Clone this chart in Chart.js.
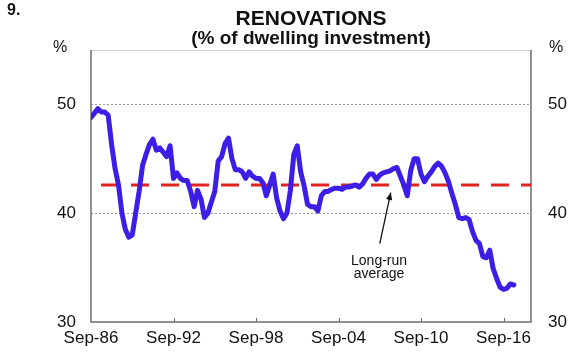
<!DOCTYPE html>
<html>
<head>
<meta charset="utf-8">
<script src="https://cdn.jsdelivr.net/npm/chart.js@4.4.1/dist/chart.umd.min.js"></script>
<style>
  html, body { margin: 0; padding: 0; background: #fff; }
  #wrap { width: 580px; height: 352px; }
</style>
</head>
<body>
<div id="wrap"><canvas id="reno" width="580" height="352"></canvas></div>
<script>
// quarterly, Sep-86 onwards (% of dwelling investment)
const renovations = [
  48.8, 49.2, 49.6, 49.3, 49.3, 49.0, 46.3, 44.1, 42.6, 40.0,
  38.5, 37.8, 38.0, 40.0, 42.0, 44.4, 45.4, 46.3, 46.8, 45.8,
  46.0, 45.6, 45.2, 46.2, 43.2, 43.7, 43.2, 43.0, 43.0, 42.0,
  40.6, 42.1, 41.3, 39.6, 40.0, 41.0, 42.0, 44.8, 45.2, 46.4,
  46.9, 45.0, 44.0, 44.0, 43.8, 43.2, 43.8, 43.4, 43.2, 43.2,
  42.8, 41.6, 42.6, 43.6, 41.4, 40.2, 39.5, 40.0, 42.1, 45.4,
  46.2, 43.8, 42.5, 40.8, 40.6, 40.6, 40.2, 41.6, 42.0, 42.0,
  42.2, 42.3, 42.3, 42.2, 42.4, 42.4, 42.5, 42.6, 42.4, 42.7,
  43.2, 43.6, 43.6, 43.1, 43.5, 43.7, 43.8, 43.9, 44.1, 44.2,
  43.4, 42.6, 41.6, 43.9, 45.0, 45.0, 43.6, 42.9, 43.4, 43.8,
  44.3, 44.6, 44.3, 43.7, 42.9, 41.8, 40.8, 39.6, 39.5, 39.6,
  39.4, 38.3, 37.5, 37.2, 36.0, 35.9, 36.6, 34.9, 34.0, 33.2,
  33.0, 33.1, 33.5, 33.4
]
const longRunAverage = [42.6, 42.6]
const averageSpan = [0, 128]
const tickLabels = ['Sep-86', 'Sep-92', 'Sep-98', 'Sep-04', 'Sep-10', 'Sep-16']
const yTicks = [30, 40, 50]

const FONT = "'Liberation Sans', Arial, sans-serif"
const TICK_STEP = 24 // quarters between labels

const decorations = {
  id: 'decorations',
  beforeDatasetsDraw(chart) {
    const {ctx, chartArea: a} = chart
    const x = chart.scales.x
    ctx.save()
    // frame
    ctx.strokeStyle = '#d0d0d0'
    ctx.lineWidth = 1
    ctx.beginPath()
    ctx.moveTo(a.left, a.top + 0.5)
    ctx.lineTo(a.right, a.top + 0.5)
    ctx.stroke()
    ctx.strokeStyle = '#6e6e6e'
    ctx.lineWidth = 1.5
    ctx.beginPath()
    ctx.moveTo(a.left, a.top)
    ctx.lineTo(a.left, a.bottom)
    ctx.lineTo(a.right, a.bottom)
    ctx.lineTo(a.right, a.top)
    ctx.stroke()
    // small inward ticks on the bottom axis
    ctx.lineWidth = 1
    tickLabels.forEach((l, i) => {
      if (i === 0) return
      const px = Math.round(x.getPixelForValue(i * TICK_STEP)) + 0.5
      ctx.beginPath()
      ctx.moveTo(px, a.bottom)
      ctx.lineTo(px, a.bottom - 4)
      ctx.stroke()
    })
    ctx.restore()
  },
  afterDraw(chart) {
    const {ctx, chartArea: a, scales} = chart
    const cx = (a.left + a.right) / 2
    ctx.save()
    ctx.fillStyle = '#111'
    ctx.textBaseline = 'middle'
    ctx.textAlign = 'left'
    ctx.font = `bold 16px ${FONT}`
    ctx.fillText('9.', 7, 11)
    ctx.textAlign = 'center'
    ctx.font = `bold 21px ${FONT}`
    ctx.fillText('RENOVATIONS', cx, 19)
    ctx.font = `bold 19px ${FONT}`
    ctx.fillText('(% of dwelling investment)', cx, 39)
    ctx.font = `16px ${FONT}`
    ctx.fillText('%', 60, 48)
    ctx.fillText('%', 556, 48)

    // long-run average note
    const xs = scales.x, ys = scales.y
    const tipX = xs.getPixelForValue(87.2), tipY = ys.getPixelForValue(41.9)
    const tailX = xs.getPixelForValue(84), tailY = ys.getPixelForValue(37.2)
    ctx.strokeStyle = '#111'
    ctx.lineWidth = 1.3
    ctx.beginPath()
    ctx.moveTo(tailX, tailY)
    ctx.lineTo(tipX, tipY)
    ctx.stroke()
    const ang = Math.atan2(tipY - tailY, tipX - tailX)
    ctx.beginPath()
    ctx.moveTo(tipX, tipY)
    ctx.lineTo(tipX - 8 * Math.cos(ang - 0.4), tipY - 8 * Math.sin(ang - 0.4))
    ctx.lineTo(tipX - 8 * Math.cos(ang + 0.4), tipY - 8 * Math.sin(ang + 0.4))
    ctx.closePath()
    ctx.fill()
    ctx.font = `14px ${FONT}`
    const tx = xs.getPixelForValue(83.8)
    ctx.fillText('Long-run', tx, ys.getPixelForValue(35.6))
    ctx.fillText('average', tx, ys.getPixelForValue(34.4))
    ctx.restore()
  }
}

const yAxis = (position, width) => ({
  type: 'linear',
  position: position,
  min: 30,
  max: 55,
  afterBuildTicks: (axis) => { axis.ticks = yTicks.map(v => ({value: v})) },
  afterFit: (axis) => { axis.width = width },
  grid: {
    display: position === 'left',
    drawTicks: false,
    color: (c) => (c.tick && c.tick.value > 30 ? '#9a9a9a' : 'rgba(0,0,0,0)'),
    lineWidth: 1
  },
  border: {display: false, dash: [2, 2]},
  ticks: {padding: position === 'left' ? 15 : 17, color: '#111', font: {family: FONT, size: 17}}
})

const ctx = document.getElementById('reno').getContext('2d')
new Chart(ctx, {
  type: 'line',
  data: {
    datasets: [{
      label: 'Renovations',
      data: renovations.map((v, i) => ({x: i, y: v})),
      borderColor: '#3d1ee6',
      borderWidth: 5,
      borderJoinStyle: 'round',
      borderCapStyle: 'round',
      pointRadius: 0,
      tension: 0
    }, {
      label: 'Long-run average',
      data: averageSpan.map((x, i) => ({x: x, y: longRunAverage[i]})),
      borderColor: '#e3231f',
      borderWidth: 3,
      borderDash: [18, 12],
      borderDashOffset: 20,
      pointRadius: 0
    }]
  },
  options: {
    responsive: false,
    animation: false,
    layout: {padding: {top: 50, left: 0, right: 0, bottom: 0}},
    plugins: {legend: {display: false}, tooltip: {enabled: false}},
    scales: {
      x: {
        type: 'linear',
        min: 0,
        max: 128,
        afterBuildTicks: (axis) => { axis.ticks = tickLabels.map((l, i) => ({value: i * TICK_STEP})) },
        afterFit: (axis) => { axis.height = 30 },
        grid: {display: false, drawTicks: false},
        border: {display: false},
        ticks: {
          padding: 6,
          maxRotation: 0,
          color: '#111',
          font: {family: FONT, size: 17},
          callback: (v) => tickLabels[v / TICK_STEP]
        }
      },
      y: yAxis('left', 91),
      y2: yAxis('right', 49)
    }
  },
  plugins: [decorations]
})
</script>
</body>
</html>
